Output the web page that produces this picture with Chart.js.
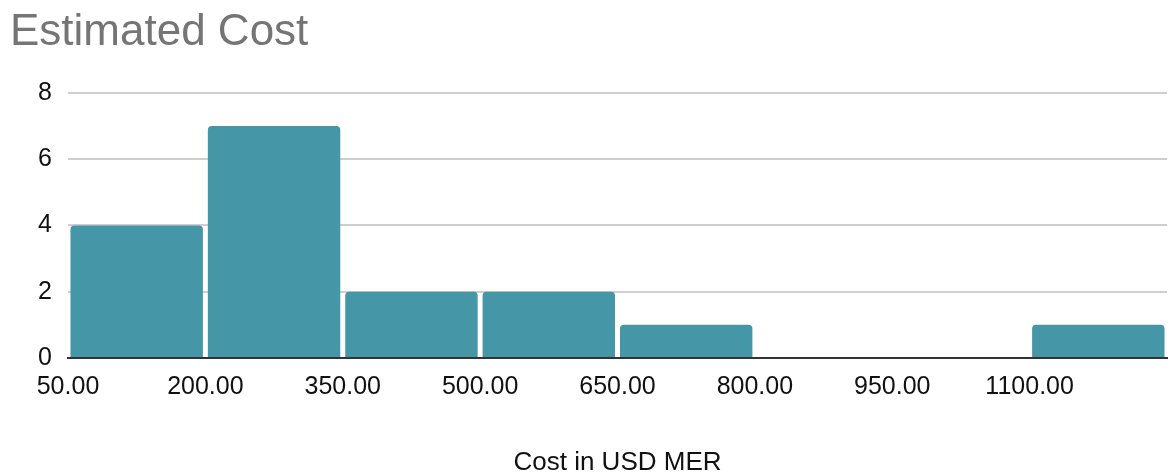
<!DOCTYPE html>
<html>
<head>
<meta charset="utf-8">
<title>Estimated Cost</title>
<script src="https://cdn.jsdelivr.net/npm/chart.js@4/dist/chart.umd.min.js"></script>
<style>
  html, body { margin: 0; padding: 0; background: #fff; }
  #wrap { width: 1169px; height: 475px; position: relative; }
</style>
</head>
<body>
<div id="wrap"><canvas id="chartCost"></canvas></div>
<script>
// Histogram bins (lower edge of each bin) and counts
const binStarts = [50, 200, 350, 500, 650, 800, 950, 1100];
const binWidth = 150;
const binCounts = [4, 7, 2, 2, 1, 0, 0, 1];
const yTicks = [0, 2, 4, 6, 8];

const FONT = 'Liberation Sans, Arial, sans-serif';

const ctx = document.getElementById('chartCost').getContext('2d');
new Chart(ctx, {
  type: 'bar',
  data: {
    datasets: [{
      label: 'Estimated Cost',
      data: binStarts.map((s, i) => ({ x: s + binWidth / 2, y: binCounts[i] })),
      backgroundColor: '#4596a6',
      borderWidth: 0,
      borderRadius: 4,
      categoryPercentage: 1,
      barPercentage: 0.964
    }]
  },
  options: {
    responsive: true,
    maintainAspectRatio: false,
    animation: false,
    layout: { padding: { left: 10, right: 2, top: 0, bottom: 0 } },
    plugins: {
      legend: { display: false },
      tooltip: { enabled: false },
      title: {
        display: true,
        text: 'Estimated Cost',
        align: 'start',
        color: '#757575',
        font: { family: FONT, size: 44, weight: 'normal' },
        padding: { top: 6, bottom: 34 }
      }
    },
    scales: {
      x: {
        type: 'linear',
        offset: false,
        min: binStarts[0],
        max: binStarts[binStarts.length - 1] + binWidth,
        afterBuildTicks: s => { s.ticks = binStarts.map(v => ({ value: v })); },
        afterFit: s => { s.height = 117; },
        grid: { display: false, drawTicks: false },
        border: { display: true, color: '#333333', width: 2 },
        ticks: {
          color: '#111',
          padding: 14,
          maxRotation: 0,
          autoSkip: false,
          font: { family: FONT, size: 25 },
          callback: v => Number(v).toFixed(2)
        },
        title: {
          display: true,
          text: 'Cost in USD MER',
          color: '#111',
          font: { family: FONT, size: 26 },
          padding: { top: 0, bottom: -3 }
        }
      },
      y: {
        min: 0,
        max: 8,
        afterBuildTicks: s => { s.ticks = yTicks.map(v => ({ value: v })); },
        afterFit: s => { s.width = 58; },
        grid: {
          drawTicks: false,
          color: c => c.tick && c.tick.value === 0 ? 'rgba(0,0,0,0)' : '#cfcfcf',
          lineWidth: 2
        },
        border: { display: false },
        ticks: {
          color: '#111',
          padding: 16,
          font: { family: FONT, size: 25 }
        }
      }
    }
  }
});
</script>
</body>
</html>
